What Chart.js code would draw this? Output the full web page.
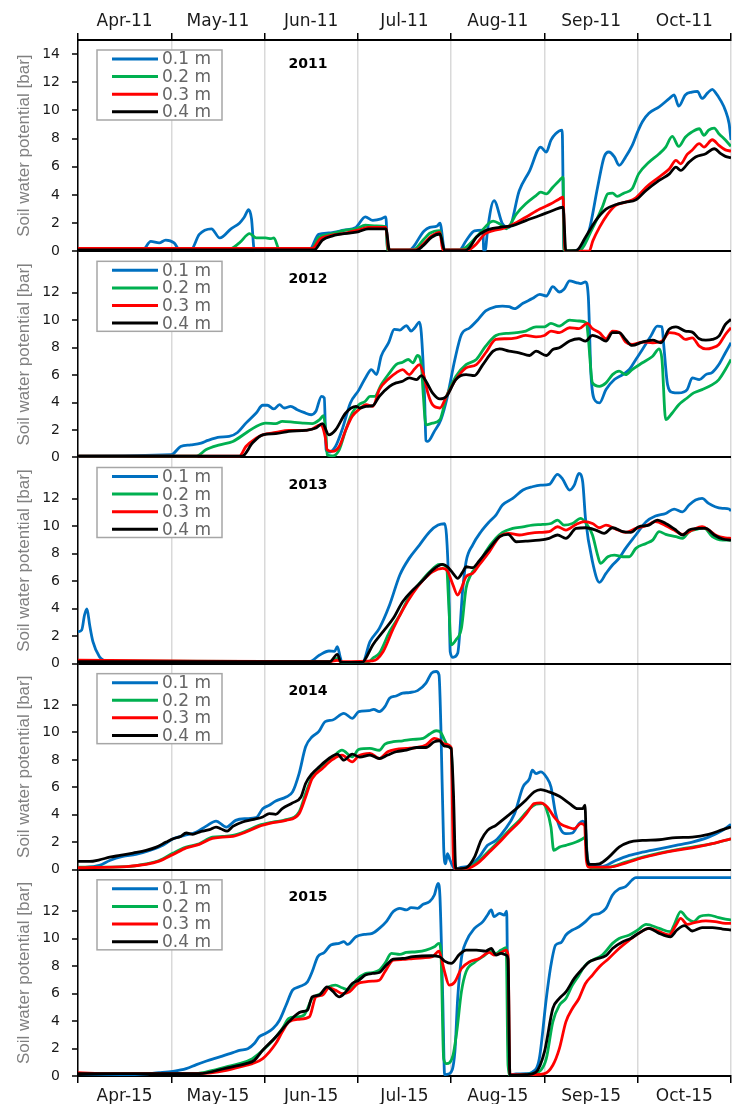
<!DOCTYPE html>
<html>
<head>
<meta charset="utf-8">
<title>Soil water potential 2011-2015</title>
<script src="https://cdn.jsdelivr.net/npm/chart.js"></script>
<style>
  html, body { margin: 0; padding: 0; background: #fff; }
  #chart { display: block; }
</style>
</head>
<body>
<canvas id="chart" width="734" height="1104"></canvas>
<script>
// Panels, depths and axis labels
const years = ['2011', '2012', '2013', '2014', '2015'];
const depths = ['0.1 m', '0.2 m', '0.3 m', '0.4 m'];
const topTickLabels = ['Apr-11', 'May-11', 'Jun-11', 'Jul-11', 'Aug-11', 'Sep-11', 'Oct-11'];
const bottomTickLabels = ['Apr-15', 'May-15', 'Jun-15', 'Jul-15', 'Aug-15', 'Sep-15', 'Oct-15'];
const yTicksTop = [0, 2, 4, 6, 8, 10, 12, 14];
const yTicksOther = [0, 2, 4, 6, 8, 10, 12];
const colors = ['#0070C0', '#00B050', '#FF0000', '#000000'];

// Series: [months since 1 April, soil water potential in bar]
const d2011_01 = [[0,0.15],[0.70,0.15],[0.78,0.7],[0.87,0.6],[0.94,0.8],[1.03,0.6],[1.09,0.1],[1.21,0.1],[1.30,1.2],[1.43,1.6],[1.52,0.95],[1.64,1.6],[1.73,2.0],[1.78,2.4],[1.83,2.95],[1.86,2.3],[1.89,0.1],[2.48,0.1],[2.58,1.2],[2.69,1.3],[2.85,1.5],[2.98,1.7],[3.08,2.45],[3.16,2.2],[3.25,2.3],[3.30,2.45],[3.32,0.1],[3.55,0.1],[3.71,1.45],[3.77,1.7],[3.85,1.8],[3.88,2.0],[3.93,0.1],[4.09,0.1],[4.16,0.75],[4.25,1.45],[4.34,1.5],[4.35,0.0],[4.37,0.2],[4.39,1.5],[4.46,3.6],[4.55,1.95],[4.62,1.7],[4.73,4.3],[4.84,5.7],[4.96,7.4],[5.02,7.05],[5.07,7.9],[5.12,8.35],[5.19,8.6],[5.21,0.05],[5.30,0.05],[5.37,0.15],[5.48,1.5],[5.57,4.55],[5.64,6.7],[5.69,7.05],[5.75,6.7],[5.80,6.1],[5.87,6.7],[5.94,7.5],[6.00,8.5],[6.05,9.2],[6.12,9.8],[6.23,10.25],[6.34,10.85],[6.39,11.1],[6.44,10.3],[6.51,11.1],[6.58,11.3],[6.64,11.35],[6.69,10.85],[6.75,11.25],[6.80,11.5],[6.83,11.3],[6.89,10.7],[6.94,10.0],[6.98,9.05],[7.0,7.9]];
const d2011_02 = [[0,0.15],[1.62,0.15],[1.73,0.6],[1.84,1.25],[1.91,0.95],[2.01,0.95],[2.07,0.9],[2.10,0.95],[2.16,0.1],[2.50,0.1],[2.58,1.0],[2.69,1.2],[2.87,1.5],[2.98,1.6],[3.08,1.85],[3.20,1.8],[3.30,1.75],[3.32,0.1],[3.59,0.1],[3.71,0.88],[3.77,1.28],[3.88,1.47],[3.92,0.1],[4.09,0.1],[4.16,0.3],[4.30,1.23],[4.45,2.14],[4.52,1.95],[4.59,1.6],[4.70,2.66],[4.80,3.37],[4.91,3.96],[4.96,4.2],[5.02,4.08],[5.09,4.55],[5.16,5.03],[5.20,5.27],[5.21,0.05],[5.37,0.05],[5.52,1.7],[5.62,3.13],[5.68,4.08],[5.73,4.13],[5.78,3.9],[5.85,4.13],[5.94,4.44],[6.01,5.5],[6.12,6.33],[6.23,6.93],[6.30,7.4],[6.37,8.16],[6.44,7.45],[6.51,8.1],[6.58,8.47],[6.66,8.7],[6.71,8.23],[6.76,8.6],[6.82,8.75],[6.87,8.35],[6.94,7.9],[7.0,7.45]];
const d2011_03 = [[0,0.2],[2.51,0.2],[2.60,0.9],[2.69,1.1],[2.87,1.3],[3.00,1.5],[3.11,1.7],[3.30,1.7],[3.33,0.1],[3.62,0.1],[3.70,0.5],[3.79,1.1],[3.88,1.35],[3.91,0.1],[4.15,0.1],[4.20,0.15],[4.27,0.52],[4.36,1.23],[4.45,1.47],[4.55,1.6],[4.66,1.9],[4.80,2.42],[4.95,3.0],[5.07,3.37],[5.16,3.72],[5.20,3.84],[5.22,0.02],[5.48,0.02],[5.52,0.76],[5.59,1.7],[5.68,2.66],[5.76,3.25],[5.87,3.49],[5.98,3.8],[6.09,4.55],[6.23,5.27],[6.34,5.86],[6.41,6.45],[6.46,6.21],[6.53,6.88],[6.58,7.16],[6.66,7.64],[6.71,7.4],[6.80,7.92],[6.87,7.52],[6.94,7.2],[7.0,7.12]];
const d2011_04 = [[0,0.1],[2.53,0.1],[2.62,0.8],[2.73,1.1],[2.91,1.3],[3.01,1.4],[3.11,1.6],[3.30,1.6],[3.34,0.05],[3.62,0.05],[3.70,0.4],[3.79,1.0],[3.88,1.23],[3.93,0.05],[4.15,0.05],[4.20,0.3],[4.27,1.0],[4.37,1.47],[4.52,1.7],[4.66,1.83],[4.80,2.18],[4.95,2.54],[5.09,2.9],[5.20,3.13],[5.23,0.02],[5.34,0.05],[5.44,1.0],[5.55,2.18],[5.66,3.0],[5.77,3.32],[5.87,3.49],[5.98,3.65],[6.09,4.32],[6.23,5.03],[6.34,5.5],[6.41,5.98],[6.46,5.74],[6.55,6.33],[6.62,6.69],[6.73,6.93],[6.82,7.28],[6.89,6.93],[6.94,6.74],[7.0,6.64]];

const d2012_01 = [[0,0.1],[1.00,0.2],[1.10,0.8],[1.21,0.92],[1.32,1.05],[1.39,1.24],[1.52,1.48],[1.62,1.53],[1.71,1.82],[1.80,2.5],[1.91,3.24],[1.98,3.8],[2.03,3.8],[2.10,3.53],[2.16,3.84],[2.21,3.6],[2.28,3.72],[2.35,3.48],[2.42,3.28],[2.50,3.11],[2.55,3.36],[2.61,4.45],[2.64,4.33],[2.66,0.56],[2.69,0.39],[2.76,0.8],[2.83,2.0],[2.92,3.97],[3.01,4.9],[3.09,5.9],[3.145,6.4],[3.20,6.03],[3.25,7.37],[3.33,8.35],[3.39,9.32],[3.45,9.27],[3.52,9.6],[3.57,9.2],[3.61,9.44],[3.66,9.85],[3.68,9.07],[3.715,4.45],[3.73,1.24],[3.75,1.17],[3.82,1.9],[3.89,2.75],[3.96,4.45],[4.04,7.13],[4.11,8.95],[4.20,9.44],[4.29,10.05],[4.37,10.66],[4.48,10.97],[4.55,11.02],[4.62,10.97],[4.68,10.83],[4.77,11.22],[4.87,11.56],[4.95,11.87],[5.02,11.75],[5.09,12.43],[5.16,12.04],[5.21,12.24],[5.27,12.85],[5.34,12.73],[5.39,12.65],[5.44,12.77],[5.47,11.75],[5.50,5.9],[5.55,4.09],[5.59,3.97],[5.66,4.94],[5.75,5.67],[5.84,6.03],[5.91,6.4],[5.98,7.13],[6.05,7.86],[6.14,8.83],[6.21,9.56],[6.26,9.51],[6.28,8.1],[6.32,5.3],[6.37,4.74],[6.44,4.7],[6.53,4.94],[6.585,5.79],[6.66,5.67],[6.73,6.03],[6.80,6.2],[6.87,6.76],[6.94,7.62],[7.0,8.35]];
const d2012_02 = [[0,0.1],[1.27,0.1],[1.37,0.56],[1.52,0.92],[1.66,1.17],[1.80,1.78],[1.91,2.26],[2.01,2.5],[2.12,2.46],[2.19,2.63],[2.30,2.58],[2.41,2.5],[2.51,2.46],[2.59,2.75],[2.63,3.04],[2.66,1.53],[2.67,0.2],[2.73,0.12],[2.80,0.56],[2.87,2.0],[2.94,3.24],[3.01,3.84],[3.08,4.09],[3.13,4.45],[3.18,4.45],[3.25,5.3],[3.34,6.16],[3.41,6.76],[3.48,6.93],[3.54,7.13],[3.59,6.89],[3.64,7.42],[3.68,6.8],[3.70,4.7],[3.73,2.38],[3.80,2.5],[3.88,2.75],[3.95,4.45],[4.05,5.9],[4.16,6.76],[4.27,7.13],[4.37,8.1],[4.48,8.88],[4.59,9.03],[4.70,9.08],[4.80,9.2],[4.91,9.51],[5.0,9.51],[5.07,9.76],[5.16,9.56],[5.27,10.0],[5.37,9.93],[5.45,9.8],[5.47,8.71],[5.515,5.43],[5.59,5.18],[5.66,5.43],[5.73,6.03],[5.80,6.28],[5.87,6.03],[5.94,6.4],[6.05,6.89],[6.16,7.37],[6.23,7.9],[6.26,7.13],[6.30,2.75],[6.37,3.24],[6.44,3.84],[6.53,4.33],[6.60,4.7],[6.69,4.94],[6.80,5.3],[6.87,5.67],[6.94,6.4],[7.0,7.13]];
const d2012_03 = [[0,0.1],[1.73,0.1],[1.80,0.8],[1.91,1.41],[1.98,1.65],[2.12,1.82],[2.26,1.97],[2.41,1.97],[2.51,2.07],[2.60,2.38],[2.65,1.5],[2.67,0.56],[2.73,0.44],[2.80,0.8],[2.87,2.0],[2.94,3.0],[3.01,3.48],[3.09,3.84],[3.16,3.72],[3.23,4.94],[3.34,5.79],[3.41,6.16],[3.48,6.4],[3.55,6.03],[3.61,6.45],[3.66,6.76],[3.70,6.16],[3.75,4.7],[3.80,3.84],[3.88,3.6],[3.95,4.45],[4.05,5.67],[4.16,6.52],[4.27,6.76],[4.37,7.62],[4.48,8.59],[4.59,8.64],[4.70,8.71],[4.80,8.88],[4.91,8.78],[5.0,8.88],[5.07,9.2],[5.16,9.08],[5.27,9.44],[5.37,9.37],[5.46,9.76],[5.515,9.37],[5.59,9.08],[5.66,8.64],[5.73,9.2],[5.80,9.12],[5.87,8.4],[5.94,8.22],[6.05,8.4],[6.16,8.35],[6.26,8.47],[6.34,9.08],[6.44,8.95],[6.51,8.59],[6.585,8.71],[6.66,8.1],[6.73,7.9],[6.80,7.98],[6.87,8.22],[6.94,8.95],[7.0,9.44]];
const d2012_04 = [[0,0.1],[1.76,0.1],[1.87,1.05],[1.98,1.65],[2.12,1.73],[2.26,1.9],[2.44,1.97],[2.55,2.14],[2.62,2.46],[2.69,1.65],[2.76,2.0],[2.87,3.24],[2.98,3.72],[3.02,3.6],[3.09,3.72],[3.16,3.77],[3.23,4.45],[3.34,5.18],[3.41,5.43],[3.48,5.55],[3.55,5.79],[3.63,5.67],[3.68,5.96],[3.73,5.55],[3.80,4.7],[3.88,4.26],[3.95,4.45],[4.05,5.67],[4.16,6.03],[4.25,5.96],[4.34,6.76],[4.45,7.74],[4.52,7.9],[4.62,7.74],[4.73,7.62],[4.84,7.42],[4.91,7.74],[5.02,7.42],[5.09,7.86],[5.16,7.98],[5.27,8.47],[5.37,8.64],[5.44,8.47],[5.515,8.88],[5.59,8.71],[5.66,8.47],[5.73,9.08],[5.80,9.08],[5.87,8.59],[5.94,8.15],[6.05,8.4],[6.16,8.54],[6.25,8.35],[6.335,9.32],[6.41,9.51],[6.51,9.2],[6.585,9.12],[6.66,8.64],[6.73,8.54],[6.80,8.59],[6.87,8.83],[6.94,9.68],[7.0,10.05]];

const d2013_01 = [[0,2.33],[0.04,2.45],[0.07,3.54],[0.096,3.98],[0.125,2.81],[0.16,1.6],[0.23,0.5],[0.27,0.27],[0.4,0.15],[2.48,0.15],[2.59,0.63],[2.69,0.92],[2.75,0.9],[2.78,1.24],[2.81,0.5],[2.83,0.1],[3.05,0.1],[3.13,1.6],[3.23,2.57],[3.34,4.27],[3.45,6.45],[3.55,7.66],[3.66,8.63],[3.77,9.6],[3.86,10.08],[3.93,10.18],[3.95,9.36],[3.975,5.48],[3.99,0.87],[4.02,0.46],[4.07,0.75],[4.125,5.48],[4.16,7.42],[4.23,8.63],[4.32,9.6],[4.41,10.33],[4.48,10.81],[4.55,11.54],[4.66,12.02],[4.77,12.63],[4.87,12.87],[4.96,12.99],[5.05,13.04],[5.14,13.77],[5.19,13.48],[5.27,12.63],[5.32,12.99],[5.37,13.84],[5.41,13.24],[5.44,10.57],[5.515,7.42],[5.59,5.92],[5.66,6.57],[5.73,7.18],[5.80,7.66],[5.87,8.39],[5.98,9.36],[6.09,10.33],[6.19,10.74],[6.30,10.93],[6.39,11.25],[6.48,11.05],[6.55,11.54],[6.62,11.9],[6.69,12.02],[6.76,11.66],[6.83,11.42],[6.91,11.3],[6.98,11.25],[7.0,11.1]];
const d2013_02 = [[0,0.2],[2.70,0.15],[2.78,0.39],[2.82,0.1],[3.12,0.15],[3.16,0.39],[3.23,0.75],[3.34,2.33],[3.45,3.54],[3.55,4.87],[3.66,5.84],[3.77,6.69],[3.875,7.22],[3.95,7.05],[3.975,4.27],[4.0,1.36],[4.05,1.72],[4.11,2.57],[4.16,5.48],[4.21,6.45],[4.30,7.3],[4.37,8.15],[4.48,9.12],[4.55,9.55],[4.66,9.84],[4.77,9.96],[4.87,10.08],[4.98,10.13],[5.07,10.2],[5.14,10.45],[5.21,10.08],[5.30,10.2],[5.39,10.57],[5.46,10.08],[5.515,9.36],[5.57,7.9],[5.60,7.3],[5.68,7.78],[5.75,7.9],[5.84,7.78],[5.91,7.78],[5.98,8.39],[6.09,8.75],[6.16,8.99],[6.23,9.6],[6.30,9.41],[6.41,9.24],[6.48,9.12],[6.55,9.6],[6.64,9.79],[6.71,9.89],[6.80,9.24],[6.91,8.99],[7.0,8.99]];
const d2013_03 = [[0,0.25],[1.0,0.2],[2.70,0.15],[2.78,0.25],[2.83,0.15],[3.16,0.2],[3.27,0.87],[3.38,2.57],[3.48,3.9],[3.59,5.12],[3.70,6.08],[3.80,6.69],[3.91,6.93],[3.96,6.74],[4.02,5.72],[4.07,4.99],[4.11,5.48],[4.16,6.33],[4.23,6.57],[4.30,7.18],[4.41,8.15],[4.52,9.24],[4.62,9.48],[4.73,9.36],[4.84,9.48],[4.945,9.55],[5.05,9.6],[5.14,9.96],[5.23,9.72],[5.34,10.13],[5.43,10.33],[5.515,10.2],[5.59,9.89],[5.66,10.08],[5.765,9.79],[5.87,9.55],[5.98,9.84],[6.09,10.04],[6.19,10.33],[6.30,10.04],[6.39,9.72],[6.48,9.41],[6.585,9.72],[6.69,9.96],[6.76,9.72],[6.85,9.31],[6.94,9.16],[7.0,9.12]];
const d2013_04 = [[0,0.15],[2.70,0.15],[2.78,0.68],[2.82,0.1],[3.05,0.1],[3.09,0.45],[3.16,1.36],[3.27,2.33],[3.38,3.3],[3.48,4.51],[3.59,5.36],[3.70,6.08],[3.80,6.81],[3.91,7.22],[3.96,7.05],[4.02,6.57],[4.07,6.21],[4.125,6.69],[4.16,7.05],[4.23,6.98],[4.30,7.47],[4.41,8.39],[4.52,9.24],[4.61,9.41],[4.70,8.87],[4.80,8.92],[4.945,8.99],[5.05,9.12],[5.14,9.36],[5.23,9.12],[5.34,9.84],[5.44,9.89],[5.55,9.72],[5.64,9.48],[5.73,9.89],[5.84,9.6],[5.925,9.55],[6.01,9.96],[6.12,10.08],[6.21,10.45],[6.30,10.2],[6.41,9.72],[6.48,9.36],[6.55,9.72],[6.66,9.84],[6.73,9.84],[6.82,9.36],[6.91,9.07],[7.0,8.99]];

const d2014_01 = [[0,0.15],[0.23,0.32],[0.34,0.68],[0.48,0.97],[0.62,1.12],[0.77,1.41],[0.91,1.78],[1.02,2.26],[1.14,2.5],[1.27,2.75],[1.37,3.16],[1.48,3.55],[1.59,3.11],[1.69,3.6],[1.80,3.72],[1.91,3.8],[1.98,4.45],[2.05,4.7],[2.12,5.01],[2.23,5.3],[2.30,5.67],[2.37,7.0],[2.44,8.95],[2.51,9.68],[2.58,10.05],[2.65,10.78],[2.73,10.9],[2.85,11.39],[2.94,11.02],[3.01,11.51],[3.12,11.58],[3.17,11.68],[3.23,11.51],[3.29,11.87],[3.34,12.48],[3.41,12.65],[3.48,12.85],[3.55,12.9],[3.64,13.04],[3.73,13.58],[3.79,14.31],[3.84,14.43],[3.87,14.18],[3.89,10.41],[3.92,1.65],[3.94,0.44],[3.96,1.17],[3.99,0.68],[4.04,0.07],[4.09,0.15],[4.20,0.32],[4.30,0.92],[4.39,1.78],[4.48,2.14],[4.57,2.87],[4.68,4.09],[4.77,6.03],[4.84,6.64],[4.87,7.25],[4.91,7.0],[4.96,7.13],[5.02,6.76],[5.07,6.03],[5.12,4.09],[5.18,2.87],[5.23,2.63],[5.30,2.68],[5.37,3.36],[5.41,3.55],[5.44,3.11],[5.46,0.92],[5.50,0.32],[5.62,0.24],[5.765,0.68],[5.91,1.05],[6.05,1.29],[6.23,1.53],[6.41,1.78],[6.585,2.02],[6.76,2.38],[6.91,2.87],[7.0,3.31]];
const d2014_02 = [[0,0.19],[0.52,0.24],[0.73,0.44],[0.87,0.68],[1.02,1.22],[1.16,1.65],[1.30,1.9],[1.44,2.38],[1.55,2.43],[1.66,2.5],[1.80,2.82],[1.94,3.24],[2.09,3.48],[2.23,3.65],[2.37,4.21],[2.44,5.55],[2.51,6.76],[2.62,7.49],[2.73,8.18],[2.83,8.71],[2.94,8.22],[3.01,8.76],[3.13,8.83],[3.23,8.7],[3.29,9.15],[3.38,9.32],[3.48,9.39],[3.59,9.49],[3.70,9.56],[3.77,9.88],[3.84,10.12],[3.89,9.98],[3.93,9.44],[3.96,9.08],[4.0,8.83],[4.04,0.3],[4.07,0.05],[4.20,0.19],[4.30,0.68],[4.41,1.41],[4.52,2.14],[4.62,2.87],[4.73,3.6],[4.84,4.45],[4.91,4.77],[4.98,4.82],[5.02,4.45],[5.07,3.11],[5.10,1.41],[5.16,1.65],[5.23,1.78],[5.34,2.02],[5.41,2.26],[5.44,2.38],[5.465,0.32],[5.515,0.15],[5.69,0.19],[5.87,0.56],[6.05,0.92],[6.23,1.22],[6.41,1.46],[6.585,1.65],[6.80,1.9],[7.0,2.26]];
const d2014_03 = [[0,0.15],[0.52,0.24],[0.73,0.39],[0.87,0.63],[1.02,1.12],[1.16,1.6],[1.30,1.85],[1.44,2.29],[1.55,2.38],[1.66,2.43],[1.80,2.75],[1.94,3.16],[2.09,3.43],[2.23,3.6],[2.37,4.09],[2.44,5.3],[2.51,6.64],[2.62,7.37],[2.73,8.03],[2.83,8.35],[2.94,7.86],[3.01,8.3],[3.13,8.47],[3.23,8.1],[3.32,8.59],[3.41,8.76],[3.52,8.83],[3.63,8.9],[3.73,9.08],[3.82,9.56],[3.875,9.44],[3.93,9.15],[4.0,8.9],[4.025,0.68],[4.05,0.05],[4.20,0.15],[4.30,0.56],[4.41,1.29],[4.52,2.02],[4.62,2.75],[4.73,3.48],[4.82,4.21],[4.89,4.82],[4.96,4.87],[5.03,4.57],[5.105,3.84],[5.18,3.31],[5.25,3.11],[5.32,2.99],[5.39,3.36],[5.43,3.24],[5.45,0.68],[5.48,0.19],[5.69,0.19],[5.87,0.49],[6.05,0.88],[6.23,1.17],[6.41,1.41],[6.585,1.6],[6.80,1.9],[7.0,2.26]];
const d2014_04 = [[0,0.61],[0.125,0.61],[0.23,0.73],[0.34,0.92],[0.45,1.05],[0.59,1.22],[0.73,1.41],[0.84,1.65],[0.945,2.02],[1.02,2.26],[1.10,2.43],[1.16,2.68],[1.23,2.58],[1.30,2.75],[1.41,2.92],[1.48,3.11],[1.53,2.99],[1.60,2.82],[1.66,3.16],[1.765,3.48],[1.87,3.65],[1.98,3.84],[2.05,4.09],[2.12,4.04],[2.19,4.45],[2.30,4.87],[2.39,5.3],[2.44,6.28],[2.51,7.0],[2.585,7.49],[2.69,8.1],[2.78,8.42],[2.85,7.98],[2.94,8.42],[3.02,8.2],[3.13,8.35],[3.23,8.1],[3.32,8.35],[3.41,8.59],[3.52,8.71],[3.63,8.9],[3.73,8.9],[3.82,9.32],[3.875,9.39],[3.93,9.0],[4.0,8.83],[4.025,5.55],[4.05,0.07],[4.16,0.15],[4.25,0.92],[4.32,2.14],[4.39,2.87],[4.48,3.24],[4.59,3.84],[4.70,4.45],[4.80,5.06],[4.89,5.67],[4.96,5.84],[5.05,5.67],[5.16,5.35],[5.27,4.82],[5.355,4.45],[5.41,4.45],[5.435,4.7],[5.45,1.65],[5.48,0.39],[5.59,0.44],[5.69,0.92],[5.80,1.65],[5.91,2.02],[6.05,2.14],[6.23,2.19],[6.41,2.34],[6.585,2.38],[6.76,2.58],[6.91,2.92],[7.0,3.11]];

const d2015_01 = [[0,0.17],[0.59,0.1],[0.87,0.24],[1.02,0.34],[1.16,0.53],[1.27,0.83],[1.37,1.07],[1.52,1.39],[1.66,1.7],[1.73,1.87],[1.82,1.99],[1.89,2.36],[1.94,2.84],[2.01,3.09],[2.09,3.45],[2.16,4.06],[2.23,5.15],[2.30,6.25],[2.37,6.49],[2.46,6.85],[2.51,7.58],[2.57,8.68],[2.64,8.99],[2.71,9.53],[2.80,9.65],[2.85,9.77],[2.89,9.57],[2.98,10.13],[3.07,10.3],[3.155,10.38],[3.23,10.74],[3.305,11.23],[3.38,11.96],[3.45,12.2],[3.52,12.08],[3.57,12.25],[3.64,12.2],[3.70,12.49],[3.77,12.69],[3.82,13.17],[3.86,14.02],[3.88,13.05],[3.91,5.64],[3.93,0.1],[3.98,0.17],[4.04,1.75],[4.07,5.64],[4.11,8.55],[4.16,9.77],[4.25,10.74],[4.34,11.23],[4.39,11.71],[4.43,12.08],[4.46,11.59],[4.52,11.83],[4.57,11.71],[4.595,12.0],[4.61,3.21],[4.63,0.1],[4.695,0.15],[4.80,0.17],[4.87,0.29],[4.945,1.26],[5.02,5.64],[5.07,8.07],[5.12,9.53],[5.18,9.72],[5.23,10.26],[5.30,10.62],[5.37,10.86],[5.44,11.23],[5.515,11.71],[5.59,11.83],[5.66,12.2],[5.73,13.17],[5.80,13.61],[5.87,13.78],[5.94,14.26],[5.98,14.43],[7.0,14.43]];
const d2015_02 = [[0,0.17],[1.24,0.17],[1.37,0.29],[1.59,0.66],[1.73,0.9],[1.87,1.26],[1.98,1.87],[2.09,2.6],[2.19,3.45],[2.26,4.18],[2.34,4.3],[2.42,4.42],[2.51,5.64],[2.60,6.0],[2.69,6.49],[2.76,6.61],[2.83,6.42],[2.91,6.25],[2.98,6.97],[3.08,7.46],[3.155,7.53],[3.23,7.7],[3.29,8.19],[3.36,8.92],[3.45,8.85],[3.52,8.99],[3.63,9.04],[3.73,9.16],[3.82,9.4],[3.87,9.65],[3.89,9.04],[3.92,1.26],[3.95,0.9],[4.02,1.51],[4.06,3.21],[4.11,6.12],[4.16,7.58],[4.25,8.26],[4.34,8.68],[4.43,9.09],[4.48,8.92],[4.535,9.16],[4.59,9.33],[4.61,0.78],[4.64,0.0],[4.73,0.1],[4.87,0.17],[4.96,0.41],[5.02,1.26],[5.09,3.94],[5.16,5.15],[5.23,5.64],[5.30,6.61],[5.37,7.34],[5.44,8.07],[5.515,8.43],[5.62,8.8],[5.73,9.65],[5.80,10.01],[5.91,10.26],[6.0,10.62],[6.09,11.03],[6.23,10.74],[6.35,10.5],[6.39,10.98],[6.46,11.96],[6.53,11.47],[6.60,11.23],[6.66,11.59],[6.76,11.71],[6.87,11.52],[6.94,11.42],[7.0,11.35]];
const d2015_03 = [[0,0.24],[0.34,0.17],[1.30,0.17],[1.59,0.41],[1.80,0.78],[1.87,0.9],[1.98,1.26],[2.12,2.36],[2.19,3.21],[2.26,3.94],[2.37,4.13],[2.48,4.3],[2.55,5.76],[2.62,5.88],[2.69,6.42],[2.76,6.25],[2.83,6.0],[2.91,6.12],[3.0,6.73],[3.08,6.85],[3.155,6.9],[3.23,6.97],[3.29,7.58],[3.38,8.43],[3.48,8.48],[3.59,8.55],[3.70,8.6],[3.80,8.68],[3.87,9.09],[3.89,8.68],[3.93,7.58],[3.98,6.61],[4.04,6.85],[4.11,7.82],[4.20,8.31],[4.30,8.55],[4.41,8.99],[4.46,8.8],[4.52,8.92],[4.59,9.16],[4.61,8.8],[4.63,0.1],[4.87,0.1],[5.0,0.17],[5.09,0.78],[5.16,1.99],[5.23,3.94],[5.30,4.91],[5.37,5.64],[5.44,6.73],[5.515,7.34],[5.59,7.95],[5.69,8.55],[5.80,9.28],[5.91,9.89],[6.01,10.38],[6.12,10.74],[6.23,10.5],[6.335,10.26],[6.41,10.98],[6.46,11.47],[6.53,11.03],[6.62,11.18],[6.73,11.28],[6.83,11.23],[6.94,11.11],[7.0,11.11]];
const d2015_04 = [[0,0.17],[1.30,0.17],[1.59,0.58],[1.80,0.9],[1.89,1.14],[1.98,1.87],[2.12,2.84],[2.26,3.94],[2.39,4.67],[2.46,4.79],[2.51,5.76],[2.585,5.88],[2.67,6.49],[2.73,6.17],[2.80,5.76],[2.87,6.12],[2.94,6.73],[3.01,6.97],[3.08,7.34],[3.155,7.46],[3.23,7.53],[3.305,8.07],[3.38,8.5],[3.48,8.55],[3.59,8.68],[3.79,8.75],[3.875,8.68],[3.93,8.36],[4.0,8.19],[4.09,8.85],[4.16,9.16],[4.27,9.16],[4.37,9.09],[4.43,9.28],[4.48,8.8],[4.535,8.92],[4.59,8.8],[4.61,8.5],[4.63,0.05],[4.80,0.1],[4.91,0.29],[5.0,1.75],[5.09,4.91],[5.16,5.64],[5.23,6.12],[5.32,7.1],[5.41,7.82],[5.48,8.31],[5.55,8.5],[5.66,8.75],[5.73,9.28],[5.84,9.77],[5.925,10.01],[6.01,10.38],[6.12,10.74],[6.23,10.38],[6.35,10.13],[6.42,10.62],[6.50,10.94],[6.585,10.55],[6.69,10.79],[6.80,10.79],[6.91,10.69],[7.0,10.62]];

const seriesByYear = {
  '2011': [d2011_01, d2011_02, d2011_03, d2011_04],
  '2012': [d2012_01, d2012_02, d2012_03, d2012_04],
  '2013': [d2013_01, d2013_02, d2013_03, d2013_04],
  '2014': [d2014_01, d2014_02, d2014_03, d2014_04],
  '2015': [d2015_01, d2015_02, d2015_03, d2015_04]
};

// Build one dataset per year and depth
const datasets = [];
years.forEach(function(yr) {
  seriesByYear[yr].forEach(function(pts, j) {
    datasets.push({
      label: depths[j] + ' ' + yr,
      data: pts.map(p => ({ x: p[0], y: p[1] })),
      xAxisID: 'x',
      yAxisID: 'y' + yr,
      borderColor: colors[j],
      backgroundColor: colors[j],
      borderWidth: 2.8,
      pointRadius: 0,
      cubicInterpolationMode: 'monotone',
      order: 4 - j
    });
  });
});

// month boundaries get grid lines, month middles get the labels
function monthTicks(axis) {
  const t = [];
  for (let i = 0; i <= 7; i++) {
    t.push({ value: i });
    if (i < 7) t.push({ value: i + 0.5 });
  }
  axis.ticks = t;
}
const isBoundary = v => Number.isInteger(v);

function xAxis(position, labels, height, padding, onChart) {
  return {
    type: 'linear',
    position: position,
    min: 0,
    max: 7,
    afterBuildTicks: monthTicks,
    afterFit: function(s) { s.height = height; },
    grid: {
      drawOnChartArea: onChart,
      color: c => isBoundary(c.tick.value) ? '#d9d9d9' : 'rgba(0,0,0,0)',
      lineWidth: 1.5,
      tickLength: 7,
      tickWidth: 1.5,
      tickColor: c => isBoundary(c.tick.value) ? '#000' : 'rgba(0,0,0,0)'
    },
    border: { color: '#000', width: 2 },
    ticks: {
      autoSkip: false,
      maxRotation: 0,
      padding: padding,
      color: '#1a1a1a',
      font: { family: 'DejaVu Sans', size: 17 },
      callback: v => isBoundary(v) ? '' : labels[Math.floor(v)]
    }
  };
}

function yAxis(weight, tickVals) {
  return {
    type: 'linear',
    position: 'left',
    stack: 'panels',
    stackWeight: weight,
    min: 0,
    max: 15,
    afterBuildTicks: function(a) { a.ticks = tickVals.map(v => ({ value: v })); },
    afterFit: function(a) { a.width = 78; },
    grid: {
      color: c => c.tick.value === 0 ? '#000' : 'rgba(0,0,0,0)',
      lineWidth: 2,
      tickLength: 6,
      tickWidth: 1.5,
      tickColor: '#000'
    },
    border: { color: '#000', width: 1.5 },
    ticks: {
      autoSkip: false,
      padding: 12,
      color: '#1a1a1a',
      font: { family: 'DejaVu Sans', size: 14 }
    },
    title: {
      display: true,
      text: 'Soil water potential [bar]',
      color: '#808080',
      font: { family: 'Liberation Sans', size: 17 },
      padding: { top: 14, bottom: 0 }
    }
  };
}

// legend box and year label in each panel
const panelDecor = {
  id: 'panelDecor',
  afterDatasetsDraw(chart) {
    const ctx = chart.ctx;
    const left = chart.chartArea.left;
    years.forEach(function(yr, i) {
      const top = chart.scales['y' + yr].top;
      ctx.save();
      ctx.fillStyle = '#fff';
      ctx.strokeStyle = '#a6a6a6';
      ctx.lineWidth = 1.5;
      ctx.fillRect(left + 19, top + 10, 125, 70);
      ctx.strokeRect(left + 19, top + 10, 125, 70);
      depths.forEach(function(d, j) {
        const y = top + 19 + j * 17.6;
        ctx.strokeStyle = colors[j];
        ctx.lineWidth = 3;
        ctx.beginPath();
        ctx.moveTo(left + 34, y);
        ctx.lineTo(left + 80, y);
        ctx.stroke();
        ctx.fillStyle = '#666';
        ctx.font = '17px "DejaVu Sans"';
        ctx.textAlign = 'left';
        ctx.textBaseline = 'middle';
        ctx.fillText(d, left + 84, y + 1);
      });
      ctx.fillStyle = '#000';
      ctx.font = 'bold 14px "DejaVu Sans"';
      ctx.textAlign = 'center';
      ctx.textBaseline = 'middle';
      ctx.fillText(yr, left + 230, top + (i === 0 ? 24 : 28));
      ctx.restore();
    });
  }
};

const ctx = document.getElementById('chart').getContext('2d');
new Chart(ctx, {
  type: 'line',
  data: { datasets: datasets },
  options: {
    responsive: false,
    animation: false,
    devicePixelRatio: 1,
    layout: { padding: { left: 0, right: 2, top: 0, bottom: 0 } },
    scales: {
      x: xAxis('bottom', bottomTickLabels, 28, 3, true),
      xTop: xAxis('top', topTickLabels, 40, 1, false),
      y2015: yAxis(1, yTicksOther),
      y2014: yAxis(1, yTicksOther),
      y2013: yAxis(1, yTicksOther),
      y2012: yAxis(1, yTicksOther),
      y2011: yAxis(1.025, yTicksTop)
    },
    plugins: {
      legend: { display: false },
      tooltip: { enabled: false }
    }
  },
  plugins: [panelDecor]
});
</script>
</body>
</html>
